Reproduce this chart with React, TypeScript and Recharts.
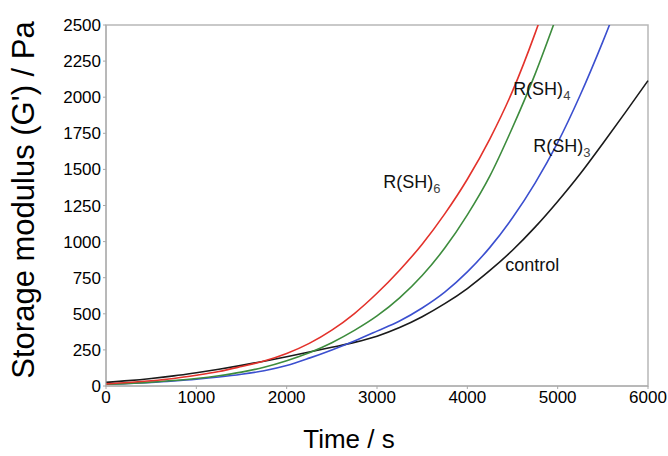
import { LineChart, Line, XAxis, YAxis, ReferenceArea, ReferenceDot } from "recharts"

// time points (s)
const times = [0, 250, 500, 750, 1000, 1250, 1500, 1750, 2000, 2250, 2500, 2750, 3000, 3250, 3500, 3750, 4000, 4250, 4500, 4750, 5000, 5250, 5500, 5750, 6000]

// storage modulus G' (Pa)
const rsh6 = [15, 24, 36, 52, 74, 100, 135, 173, 225, 295, 387, 502, 642, 802, 982, 1192, 1432, 1712, 2042, 2442, 2900, null, null, null, null]
const rsh4 = [12, 18, 27, 38, 52, 71, 96, 130, 175, 230, 300, 385, 485, 610, 765, 955, 1185, 1455, 1790, 2160, 2580, null, null, null, null]
const rsh3 = [14, 18, 25, 35, 47, 62, 81, 106, 142, 193, 250, 312, 380, 450, 540, 650, 790, 960, 1165, 1405, 1685, 2015, 2385, 2785, null]
const control = [25, 37, 52, 70, 92, 116, 143, 172, 203, 235, 268, 302, 345, 405, 480, 570, 675, 800, 940, 1100, 1278, 1470, 1680, 1895, 2115]

const xTicks = [0, 1000, 2000, 3000, 4000, 5000, 6000]
const yTicks = [0, 250, 500, 750, 1000, 1250, 1500, 1750, 2000, 2250, 2500]

// curve labels: name, subscript, anchor (time, G')
const curveLabels = [
  { name: "R(SH)", sub: "6", t: 3068, g: 1371 },
  { name: "R(SH)", sub: "4", t: 4507, g: 2015 },
  { name: "R(SH)", sub: "3", t: 4729, g: 1620 },
  { name: "control", sub: "", t: 4419, g: 796 },
]

const data = times.map((t, i) => ({
  t,
  rsh6: rsh6[i],
  rsh4: rsh4[i],
  rsh3: rsh3[i],
  control: control[i],
}))

const FONT = "'Liberation Sans', Arial, sans-serif"

const yTitle = () => {
  const cx = 23
  const cy = 200
  return (
    <text
      x={cx}
      y={cy}
      transform={`rotate(-90, ${cx}, ${cy})`}
      textAnchor="middle"
      dominantBaseline="central"
      fontSize={31}
      fontFamily={FONT}
      fill="#000"
    >
      Storage modulus (G') / Pa
    </text>
  )
}

const xTitle = (props: any) => {
  const vb = props.viewBox
  return (
    <text
      x={vb.x + vb.width / 2 - 28}
      y={448}
      textAnchor="middle"
      fontSize={26}
      fontFamily={FONT}
      fill="#000"
    >
      Time / s
    </text>
  )
}

const labelShape = (name: string, sub: string) => (p: any) => (
  <text x={p.cx} y={p.cy} fontSize={18} fontFamily={FONT} fill="#111">
    {name}
    {sub && (
      <tspan fontSize={13} dy={5} fill="#444">
        {sub}
      </tspan>
    )}
  </text>
)

export default function App() {
  return (
    <div style={{ position: "absolute", left: 0, top: 0, width: 668, height: 456, background: "#fff" }}>
      <LineChart width={668} height={456} data={data} margin={{ top: 25, right: 20, bottom: 0, left: 0 }}>
        <XAxis
          dataKey="t"
          type="number"
          domain={[0, 6000]}
          ticks={xTicks}
          interval={0}
          height={70}
          tickSize={3}
          stroke="#a8a8a8"
          tick={{ fontSize: 17, fill: "#000", fontFamily: FONT }}
          label={xTitle}
        />
        <YAxis
          type="number"
          domain={[0, 2500]}
          ticks={yTicks}
          interval={0}
          allowDataOverflow
          width={106}
          tickSize={3}
          stroke="#a8a8a8"
          tick={{ fontSize: 17, fill: "#000", fontFamily: FONT }}
          label={yTitle}
        />
        <ReferenceArea x1={0} x2={6000} y1={0} y2={2500} fill="none" stroke="#b8b8b8" strokeWidth={1.5} />
        <Line type="monotone" dataKey="control" stroke="#1a1a1a" strokeWidth={1.6} dot={false} isAnimationActive={false} />
        <Line type="monotone" dataKey="rsh3" stroke="#3b4fcf" strokeWidth={1.6} dot={false} isAnimationActive={false} />
        <Line type="monotone" dataKey="rsh4" stroke="#3d8c3d" strokeWidth={1.6} dot={false} isAnimationActive={false} />
        <Line type="monotone" dataKey="rsh6" stroke="#e3322b" strokeWidth={1.6} dot={false} isAnimationActive={false} />
        {curveLabels.map((l) => (
          <ReferenceDot key={l.name + l.sub} x={l.t} y={l.g} r={1} shape={labelShape(l.name, l.sub)} />
        ))}
      </LineChart>
    </div>
  )
}
